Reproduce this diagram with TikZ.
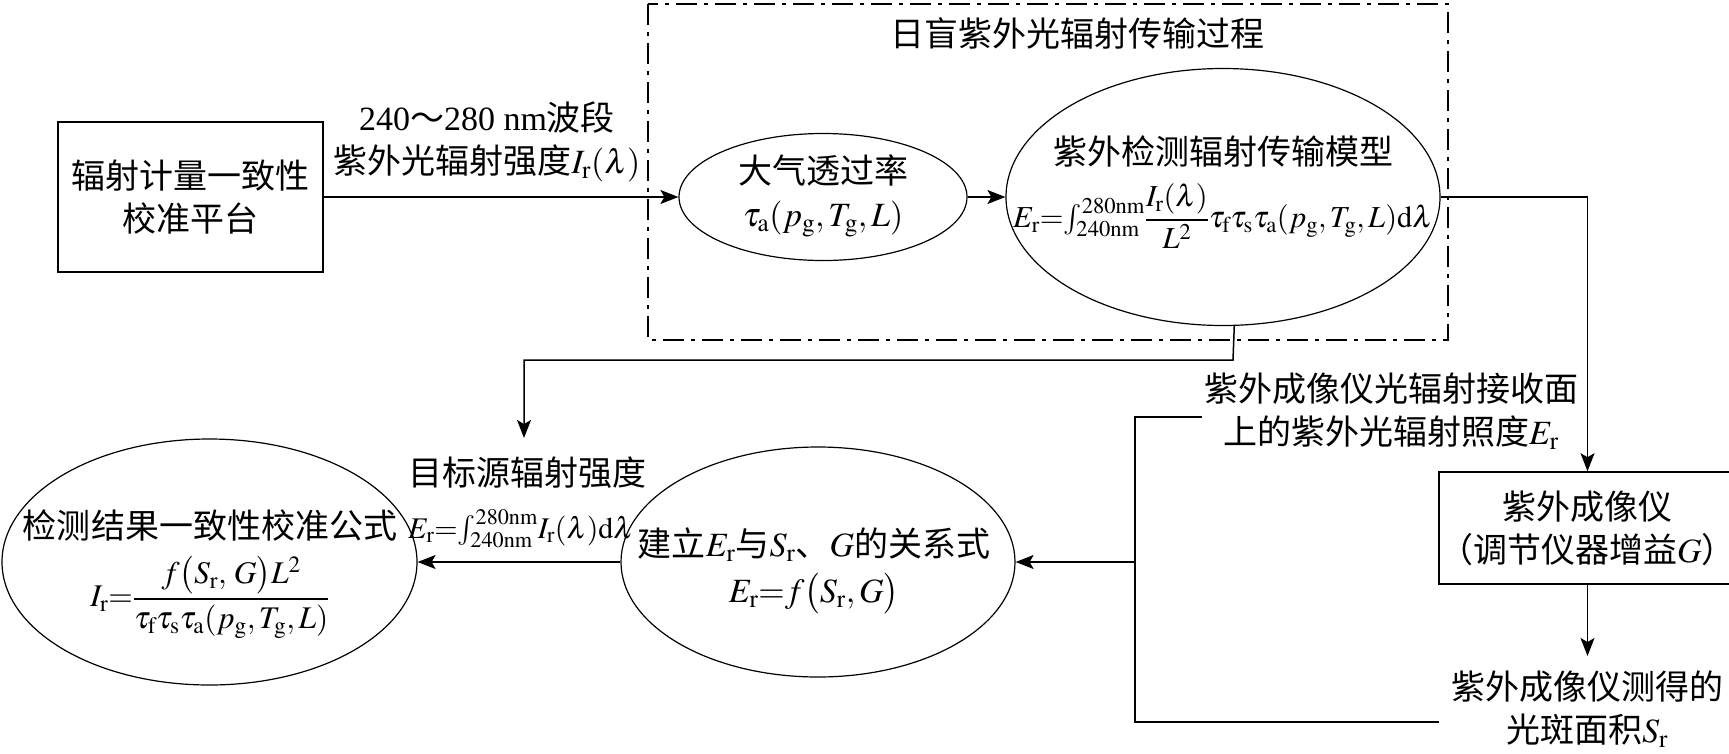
\documentclass[tikz,border=0pt]{standalone}
\usepackage{amsmath}
\usepackage{mathptmx}
\usepackage{fontspec}
\setmainfont{Liberation Serif}
\newfontfamily\cjk{Noto Sans CJK SC}
\usetikzlibrary{shapes.geometric,arrows.meta}
\newcommand{\zh}[1]{{\cjk #1}}
\newcommand{\rr}{\mathrm{r}}
\newcommand{\mfs}[1]{\fontsize{#1}{36}\selectfont}
\tikzset{
  conn/.style={line width=1.5pt},
  arr/.style={conn,-{Stealth[length=18pt,width=14pt,inset=4pt]}},
  boxnode/.style={draw,line width=1.6pt,inner sep=0pt},
  ellnode/.style={draw,ellipse,line width=1.2pt,inner sep=0pt},
  txt/.style={align=center,inner sep=0pt},
  frameline/.style={line width=1.5pt,dash pattern=on 21pt off 7pt on 4pt off 7pt},
}
\begin{document}
\begin{tikzpicture}[x=1pt,y=-1pt,font=\fontsize{34}{43}\selectfont]
\useasboundingbox (0,0) rectangle (1729,753);
% dash-dot frame
\draw[frameline] (648,4) rectangle (1448,340);
\node[txt] (title) at (1077,33) {\zh{日盲紫外光辐射传输过程}};
% left box
\node[boxnode,minimum width=265pt,minimum height=150pt,align=center] (src) at (190.5,197) {\zh{辐射计量一致性}\\\zh{校准平台}};
\node[txt] (lab1) at (487,142) {240\zh{～}280 nm\zh{波段}\\\zh{紫外光辐射强度}$I_{\rr}(\lambda)$};
% ellipses
\node[ellnode,minimum width=288pt,minimum height=127pt] (e1) at (823,197) {};
\node[txt] (e1t) at (823,196) {\zh{大气透过率}\\$\tau_{\mathrm a}(p_{\mathrm g},T_{\mathrm g},L)$};
\node[ellnode,minimum width=434pt,minimum height=257pt] (e2) at (1223,197) {};
\node[txt] (e2t) at (1223,192) {\zh{紫外检测辐射传输模型}\\[16pt]{\mfs{30.5}$E_{\rr}{=}{\textstyle\int_{240\mathrm{nm}}^{280\mathrm{nm}}}\dfrac{I_{\rr}(\lambda)}{L^2}\tau_{\mathrm f}\tau_{\mathrm s}\tau_{\mathrm a}(p_{\mathrm g},T_{\mathrm g},L)\mathrm{d}\lambda$}};
\node[ellnode,minimum width=394pt,minimum height=230pt] (e3) at (818,562) {};
\node[txt] (e3t) at (814,571) {\zh{建立}$E_{\rr}$\zh{与}$S_{\rr}$\zh{、}$G$\zh{的关系式}\\[3pt]$E_{\rr}{=}f\big(S_{\rr},G\big)$};
\node[ellnode,minimum width=415pt,minimum height=246pt] (e4) at (209.5,562) {};
\node[txt] (e4t) at (210,574) {\zh{检测结果一致性校准公式}\\[14pt]{\mfs{31.5}$I_{\rr}{=}\dfrac{f\big(S_{\rr},\,G\big)L^2}{\tau_{\mathrm f}\tau_{\mathrm s}\tau_{\mathrm a}(p_{\mathrm g},T_{\mathrm g},L)}$}};
% labels
\node[txt,align=left,anchor=west] (lab4) at (408,502) {\zh{目标源辐射强度}\\[10pt]{\mfs{30}$E_{\rr}{=}{\textstyle\int_{240\mathrm{nm}}^{280\mathrm{nm}}}I_{\rr}(\lambda)\mathrm{d}\lambda$}};
\node[txt] (lab5) at (1391,411) {\zh{紫外成像仪光辐射接收面}\\\zh{上的紫外光辐射照度}$E_{\rr}$};
\node[txt] (lab6) at (1587,709) {\zh{紫外成像仪测得的}\\\zh{光斑面积}$S_{\rr}$};
% camera box
\node[boxnode,minimum width=279pt,minimum height=112pt,align=center] (cam) at (1587.5,528) {\zh{紫外成像仪}\\\zh{（调节仪器增益}$G$\zh{）}};
% coordinates
\coordinate (k1) at (1233,360);
\coordinate (k2) at (524,360);
\coordinate (k3) at (524,438);
\coordinate (b1) at (1202,417);
\coordinate (b2) at (1135,417);
\coordinate (b3) at (1135,722);
\coordinate (b4) at (1439,722);
\coordinate (b5) at (1135,562);
\coordinate (c1) at (1587.5,656);
% connectors
\draw[arr] (src.east) -- (e1.west);
\draw[arr] (e1.east) -- (e2.west);
\draw[arr] (e2.east) -| (cam.north);
\draw[arr] (e2.-85.5) -- (k1) -- (k2) -- (k3);
\draw[arr] (cam.south) -- (c1);
\draw[conn] (b1) -- (b2) -- (b3) -- (b4);
\draw[arr] (b5) -- (e3.east);
\draw[arr] (e3.west) -- (e4.east);
\end{tikzpicture}
\end{document}
